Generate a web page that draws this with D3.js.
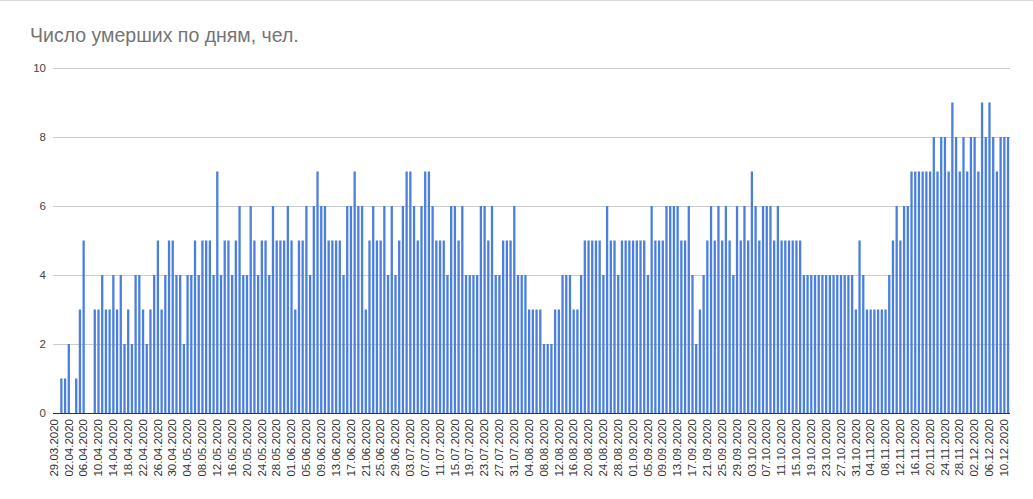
<!DOCTYPE html>
<html><head><meta charset="utf-8">
<script src="https://cdn.jsdelivr.net/npm/d3@7"></script>
<style>body{margin:0;background:#fff;overflow:hidden}</style>
</head><body>
<svg id="c" width="1033" height="499"></svg>
<script>
const title = "Число умерших по дням, чел.";
const startDate = "2020-03-29";
const deaths = [
  0,1,1,2,0,1,3,5,0,0,
  3,3,4,3,3,4,3,4,2,3,
  2,4,4,3,2,3,4,5,3,4,
  5,5,4,4,2,4,4,5,4,5,
  5,5,4,7,4,5,5,4,5,6,
  4,4,6,5,4,5,5,4,6,5,
  5,5,6,5,3,5,5,6,4,6,
  7,6,6,5,5,5,5,4,6,6,
  7,6,6,3,5,6,5,5,6,4,
  6,4,5,6,7,7,6,5,6,7,
  7,6,5,5,5,4,6,6,5,6,
  4,4,4,4,6,6,5,6,4,4,
  5,5,5,6,4,4,4,3,3,3,
  3,2,2,2,3,3,4,4,4,3,
  3,4,5,5,5,5,5,4,6,5,
  5,4,5,5,5,5,5,5,5,4,
  6,5,5,5,6,6,6,6,5,5,
  6,4,2,3,4,5,6,5,6,5,
  6,5,4,6,5,6,5,7,6,5,
  6,6,6,5,6,5,5,5,5,5,
  5,4,4,4,4,4,4,4,4,4,
  4,4,4,4,4,3,5,4,3,3,
  3,3,3,3,4,5,6,5,6,6,
  7,7,7,7,7,7,8,7,8,8,
  7,9,8,7,8,7,8,8,7,9,
  8,9,8,7,8,8,8
];
const yTicks = [0, 2, 4, 6, 8, 10];
const labelEvery = 4;

const parse = d3.timeParse("%Y-%m-%d"), fmt = d3.timeFormat("%d.%m.%Y");
const start = parse(startDate);
const days = deaths.map((v, i) => fmt(d3.timeDay.offset(start, i)));
const tickDays = days.filter((d, i) => i % labelEvery === 0);

const svg = d3.select("#c");
const font = "Arial, 'Liberation Sans', sans-serif";

svg.append("line").attr("x1", 0).attr("x2", 1033).attr("y1", 0.5).attr("y2", 0.5)
  .attr("stroke", "#dadada");

svg.append("text").attr("x", 30).attr("y", 42).text(title)
  .attr("font-family", font).attr("font-size", 19.5).attr("fill", "#757575");

const x = d3.scaleBand().domain(days).range([55.8, 1009.9])
  .paddingInner(0.382).paddingOuter(0.191);
const y = d3.scaleLinear().domain([0, 10]).range([413, 68]);

const gridL = 53, gridR = 1010;
svg.append("g").selectAll("line").data(yTicks.filter(t => t !== 0)).join("line")
  .attr("x1", gridL).attr("x2", gridR)
  .attr("y1", d => Math.round(y(d)) + 0.5).attr("y2", d => Math.round(y(d)) + 0.5)
  .attr("stroke", "#cccccc");

svg.append("g").selectAll("text").data(yTicks).join("text")
  .attr("x", 46).attr("y", d => y(d)).attr("dy", "0.35em")
  .attr("text-anchor", "end").attr("font-family", font).attr("font-size", 11.5)
  .attr("fill", "#444").text(d => d);

svg.append("g").selectAll("rect").data(deaths).join("rect")
  .attr("x", (d, i) => x(days[i])).attr("width", x.bandwidth())
  .attr("y", d => y(d)).attr("height", d => y(0) - y(d))
  .attr("fill", "#4a7fdd");

svg.append("line").attr("x1", gridL).attr("x2", gridR)
  .attr("y1", Math.round(y(0)) + 0.5).attr("y2", Math.round(y(0)) + 0.5)
  .attr("stroke", "#333");

const ax = svg.append("g").attr("transform", `translate(0,${Math.round(y(0))})`)
  .call(d3.axisBottom(x).tickValues(tickDays).tickSize(0).tickPadding(0));
ax.select(".domain").remove();
ax.selectAll("text")
  .attr("transform", "rotate(-90)").attr("text-anchor", "end")
  .attr("x", -6).attr("y", 0).attr("dy", 0)
  .attr("font-family", font).attr("font-size", 11.5).attr("fill", "#333");
</script>
</body></html>
